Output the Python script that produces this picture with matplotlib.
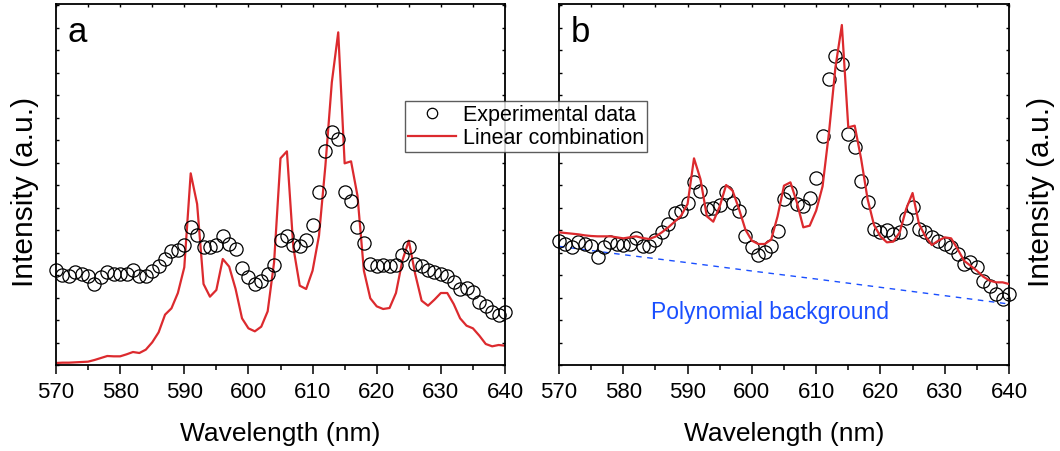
import numpy as np
import matplotlib
matplotlib.use("Agg")
import matplotlib.pyplot as plt
from matplotlib.ticker import MultipleLocator
from matplotlib.lines import Line2D

plt.rcParams['font.family'] = ['Liberation Sans', 'DejaVu Sans']

wavelength = list(range(570, 641))

exp_a = [28.6, 27.0, 26.6, 28.0, 27.2, 26.6, 24.2, 26.5, 27.8, 27.3,
         27.2, 27.4, 28.6, 26.8, 26.8, 28.3, 29.8, 31.8, 34.3, 34.6,
         36.1, 41.3, 39.0, 35.3, 35.3, 36.0, 38.8, 36.3, 34.8, 29.1,
         26.3, 24.3, 25.3, 27.3, 30.1, 37.6, 38.8, 36.0, 35.8, 37.6,
         42.1, 51.8, 64.3, 69.8, 67.8, 52.0, 49.3, 41.3, 36.6, 30.3,
         29.8, 30.1, 29.8, 30.0, 33.0, 35.3, 30.3, 29.8, 28.6, 27.8,
         27.3, 26.6, 25.0, 22.8, 23.0, 21.8, 18.8, 17.6, 15.8, 15.0,
         15.8]

fit_a = [0.6, 0.7, 0.7, 0.8, 0.9, 1.0, 1.5, 2.1, 2.7, 2.6,
         2.6, 3.2, 3.9, 3.6, 4.6, 6.8, 9.8, 15.1, 17.0, 21.6,
         29.3, 57.5, 48.3, 24.3, 20.5, 22.5, 31.8, 29.5, 22.8, 14.0,
         11.0, 10.1, 11.5, 16.1, 30.8, 62.0, 64.1, 35.3, 23.8, 22.8,
         28.3, 38.8, 59.8, 84.8, 99.8, 60.5, 61.1, 50.8, 28.3, 20.0,
         17.6, 16.8, 17.1, 21.6, 31.3, 37.3, 27.3, 19.3, 17.8, 19.6,
         21.6, 21.6, 18.3, 14.0, 11.8, 11.0, 8.8, 6.3, 5.6, 6.0,
         5.8]

exp_b = [37.3, 36.3, 35.3, 37.0, 36.3, 35.6, 32.3, 35.3, 36.8, 36.3,
         36.0, 36.3, 38.0, 35.8, 35.8, 37.6, 39.8, 42.3, 45.5, 46.3,
         48.6, 55.0, 52.1, 46.8, 47.0, 48.0, 51.8, 48.6, 46.3, 38.8,
         35.3, 33.0, 33.8, 35.8, 40.3, 49.8, 51.8, 48.3, 47.8, 50.0,
         56.0, 68.8, 85.8, 92.8, 90.3, 69.3, 65.5, 55.3, 49.0, 40.8,
         39.8, 40.5, 39.3, 40.0, 44.1, 47.3, 40.8, 39.8, 38.3, 37.3,
         36.3, 35.3, 33.3, 30.3, 31.0, 29.3, 25.3, 23.8, 21.3, 19.8,
         21.3]

fit_b = [39.8, 39.6, 39.4, 39.2, 38.9, 38.7, 38.6, 38.6, 38.6, 38.3,
         38.0, 38.3, 38.6, 38.1, 37.8, 38.5, 39.8, 41.3, 43.0, 44.8,
         48.3, 62.0, 55.8, 44.6, 43.0, 47.6, 54.0, 52.3, 46.8, 40.6,
         37.3, 36.3, 36.3, 37.6, 44.6, 53.8, 54.8, 48.8, 41.3, 41.8,
         46.3, 53.6, 69.8, 89.3, 102.0, 71.3, 71.8, 61.8, 49.8, 42.0,
         38.6, 36.8, 37.0, 39.8, 46.8, 51.6, 42.3, 38.6, 36.0, 37.3,
         38.3, 38.0, 34.8, 31.3, 29.8, 28.3, 26.5, 25.3, 24.8, 24.8,
         24.3]

bg_wavelength = [570, 580, 590, 600, 610, 620, 630, 640]
bg_values = [35.6, 33.1, 30.7, 28.2, 25.8, 23.3, 20.8, 18.3]

panel_labels = ['a', 'b']
x_ticks = [570, 580, 590, 600, 610, 620, 630, 640]

RED = '#dc2a2e'
BLUE = '#1a4fff'

W, H = 1060, 452
fig = plt.figure(figsize=(W / 100, H / 100), dpi=100)

def ax_rect(x0, x1, y0, y1):
    return [x0 / W, 1 - y1 / H, (x1 - x0) / W, (y1 - y0) / H]

ax_a = fig.add_axes(ax_rect(56, 505, 5, 366))
ax_b = fig.add_axes(ax_rect(559, 1009, 5, 366))

for ax, lab in zip([ax_a, ax_b], panel_labels):
    ax.set_xlim(570, 640)
    ax.set_ylim(0, 108.3)
    ax.set_xticks(x_ticks)
    ax.xaxis.set_minor_locator(MultipleLocator(5))
    ax.yaxis.set_major_locator(MultipleLocator(6.75))
    ax.tick_params(axis='x', which='major', direction='out', length=6.5, width=1.1,
                   labelsize=16, pad=5, top=False)
    ax.tick_params(axis='x', which='minor', direction='out', length=3.8, width=1.1, top=False)
    ax.tick_params(axis='y', which='major', direction='in', length=2.5, width=1.0,
                   left=True, right=True, labelleft=False, labelright=False)
    for s in ax.spines.values():
        s.set_linewidth(1.3)
    ax.set_xlabel('Wavelength (nm)', fontsize=19, labelpad=13.5)
    ax.text(0.026, 0.897, lab, transform=ax.transAxes, fontsize=25,
            ha='left', va='baseline')
    sec = ax.secondary_xaxis('top')
    sec.set_xticks(x_ticks)
    sec.xaxis.set_minor_locator(MultipleLocator(5))
    sec.tick_params(axis='x', which='both', direction='in', length=2, width=1.0,
                    labeltop=False)
    sec.spines['top'].set_visible(False)

ax_a.plot(wavelength, fit_a, color=RED, lw=1.6, zorder=2)
ax_a.plot(wavelength, exp_a, ls='none', marker='o', ms=9.5, mfc='none', mec='black',
          mew=0.9, zorder=3, clip_on=False)

ax_b.plot(bg_wavelength, bg_values, color=BLUE, lw=1.0, ls=(0, (4, 4)), zorder=1)
ax_b.plot(wavelength, exp_b, ls='none', marker='o', ms=9.5, mfc='none', mec='black',
          mew=0.9, zorder=3, clip_on=False)
ax_b.plot(wavelength, fit_b, color=RED, lw=1.6, zorder=4)
ax_b.text(602.9, 14.1, 'Polynomial background', color=BLUE, fontsize=16.5,
          ha='center', va='baseline')

fig.text(25 / W, 1 - 192 / H, 'Intensity (a.u.)', rotation=90, fontsize=21.5,
         ha='center', va='center')
fig.text(1041 / W, 1 - 192 / H, 'Intensity (a.u.)', rotation=90, fontsize=21.5,
         ha='center', va='center')

handles = [Line2D([], [], ls='none', marker='o', ms=7.5, mfc='none', mec='black', mew=0.9),
           Line2D([], [], color=RED, lw=1.6)]
leg = fig.legend(handles, ['Experimental data', 'Linear combination'],
                 loc='upper left', bbox_to_anchor=(405 / W, 1 - 102 / H),
                 fontsize=15.5, frameon=True, fancybox=False, borderpad=0.15,
                 handlelength=2.2, handletextpad=0.35, labelspacing=0.1,
                 borderaxespad=0)
leg.get_frame().set_edgecolor('#333333')
leg.get_frame().set_linewidth(1.0)
leg.set_zorder(10)

fig.savefig('out.png', dpi=100)
